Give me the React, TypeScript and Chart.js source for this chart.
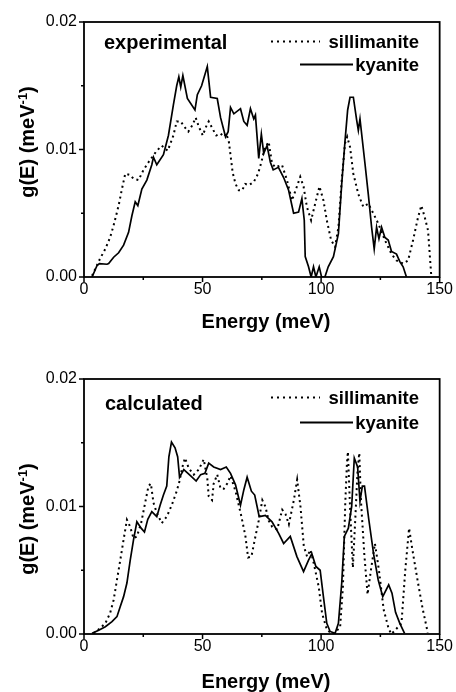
import React, { useEffect, useRef } from "react";
import { Chart, registerables } from "chart.js";
Chart.register(...registerables);

const FONT = '"Liberation Sans", Arial, Helvetica, sans-serif';

// x-axis tick labels / title
const xTickValues = [0, 50, 100, 150];
const xMinorTicks = [25, 75, 125];
const yTickValues = [0, 0.01, 0.02];
const yMinorTicks = [0.005, 0.015];
const xTitle = "Energy (meV)";
const yTitleMain = "g(E) (meV";
const yTitleSup = "-1";
const yTitleEnd = ")";
const seriesNames = ["sillimanite", "kyanite"];
const panelLabels = ["experimental", "calculated"];

// ---- experimental: kyanite ----
const expKyaniteE = [3.4, 5.5, 6.5, 9.7, 10.4, 12.5, 14.6, 16.7, 18.8, 20.2, 21.6, 22.7, 24.4, 26.5, 28.6, 29.3, 30.7, 33.5, 35.6, 37.7, 39.1, 40.0, 40.8, 41.7, 43.6, 46.8, 47.8, 49.6, 52.0, 53.4, 56.2, 57.6, 59.7, 60.8, 61.8, 63.2, 66.0, 67.4, 68.8, 70.2, 71.6, 72.3, 73.7, 74.8, 75.8, 77.2, 78.6, 79.8, 82.0, 84.2, 86.3, 88.4, 90.5, 91.9, 92.9, 93.3, 94.7, 95.8, 96.8, 97.8, 99.2, 100.2, 101.6, 103.0, 105.2, 107.3, 108.7, 110.1, 111.2, 112.2, 113.6, 115.0, 115.7, 116.4, 118.5, 119.9, 121.3, 122.4, 123.4, 124.4, 125.5, 126.9, 128.3, 129.7, 131.8, 133.2, 134.6, 136.0];
const expKyaniteG = [0, 0.0009, 0.00105, 0.001, 0.00105, 0.00155, 0.0019, 0.0025, 0.0035, 0.0048, 0.0059, 0.0056, 0.0069, 0.0076, 0.0088, 0.0094, 0.0088, 0.0096, 0.0111, 0.0135, 0.015, 0.0157, 0.0149, 0.0158, 0.014, 0.0131, 0.0143, 0.015, 0.0165, 0.0141, 0.014, 0.0125, 0.011, 0.0114, 0.0133, 0.0128, 0.0132, 0.0122, 0.0119, 0.0132, 0.0124, 0.0127, 0.0093, 0.0112, 0.0097, 0.0103, 0.009, 0.0084, 0.0086, 0.0078, 0.0068, 0.005, 0.0051, 0.00615, 0.00445, 0.0016, 0.0008, 0, 0.0008, 0, 0.0008, 0, 0, 0.0008, 0.0016, 0.0034, 0.0073, 0.0107, 0.0131, 0.0141, 0.0141, 0.0123, 0.0115, 0.0124, 0.0089, 0.0065, 0.0039, 0.0022, 0.0039, 0.003, 0.0039, 0.0031, 0.0029, 0.002, 0.0018, 0.0012, 0.0008, 0];

// ---- experimental: sillimanite ----
const expSillE = [3.4, 4.8, 6.8, 9.0, 11.0, 12.5, 14.6, 16.0, 17.4, 19.5, 20.9, 23.0, 25.1, 27.2, 29.3, 30.7, 32.8, 35.3, 37.7, 39.1, 40.8, 42.2, 44.0, 45.7, 47.1, 48.4, 50.1, 51.5, 52.6, 54.3, 55.8, 57.6, 59.0, 60.0, 61.1, 61.8, 62.7, 63.9, 65.3, 66.7, 68.0, 69.5, 71.6, 73.4, 74.8, 76.2, 77.9, 79.3, 80.7, 83.5, 85.6, 87.7, 89.8, 91.2, 92.6, 94.0, 95.8, 97.5, 99.3, 101.0, 102.4, 104.2, 105.9, 107.3, 108.7, 110.1, 111.0, 112.2, 113.6, 115.7, 117.8, 119.9, 122.0, 124.1, 126.9, 129.7, 131.8, 134.6, 136.7, 138.8, 140.9, 142.3, 143.7, 145.1, 146.5];
const expSillG = [0.0001, 0.00065, 0.00145, 0.0022, 0.0031, 0.00405, 0.0056, 0.0069, 0.0081, 0.008, 0.0077, 0.0076, 0.0084, 0.009, 0.00955, 0.0099, 0.0103, 0.0099, 0.0111, 0.0122, 0.0122, 0.0118, 0.0114, 0.0119, 0.0125, 0.0118, 0.0111, 0.0118, 0.0122, 0.0116, 0.0111, 0.01125, 0.011, 0.01125, 0.0106, 0.00955, 0.0082, 0.0073, 0.0068, 0.0068, 0.0073, 0.0072, 0.00745, 0.0081, 0.009, 0.0101, 0.0106, 0.0089, 0.0086, 0.0088, 0.0076, 0.006, 0.0071, 0.00785, 0.0071, 0.0055, 0.00445, 0.00575, 0.0071, 0.006, 0.00445, 0.0029, 0.00235, 0.0039, 0.0076, 0.0105, 0.011, 0.0102, 0.0081, 0.0065, 0.0055, 0.00575, 0.005, 0.0042, 0.0029, 0.0018, 0.0013, 0.00105, 0.0013, 0.0029, 0.0047, 0.0056, 0.0047, 0.00365, 0];

// ---- calculated: kyanite ----
const calcKyaniteE = [3.4, 6.2, 9.0, 11.8, 13.9, 15.3, 16.7, 18.1, 19.5, 20.9, 22.3, 24.1, 25.5, 26.9, 28.6, 30.7, 32.1, 33.5, 34.9, 35.8, 36.9, 38.4, 39.5, 40.3, 42.1, 45.0, 47.3, 49.2, 51.0, 52.6, 54.7, 57.6, 60.0, 61.8, 63.9, 66.0, 67.4, 68.8, 70.6, 72.0, 73.9, 76.5, 79.3, 82.1, 84.2, 87.0, 89.8, 92.6, 94.7, 96.1, 97.8, 99.6, 101.0, 102.4, 103.8, 105.9, 107.3, 108.7, 109.8, 111.5, 112.9, 114.0, 115.4, 116.4, 117.4, 118.3, 120.1, 122.2, 124.1, 126.0, 128.5, 129.9, 131.4, 133.2, 135.2];
const calcKyaniteG = [0.00005, 0.0003, 0.00057, 0.00097, 0.00136, 0.00215, 0.00293, 0.004, 0.0058, 0.0074, 0.0088, 0.0083, 0.008, 0.009, 0.0096, 0.0092, 0.0101, 0.0109, 0.0116, 0.0139, 0.01505, 0.0146, 0.0139, 0.0123, 0.0129, 0.0124, 0.012, 0.0125, 0.0126, 0.0134, 0.0131, 0.0129, 0.0131, 0.0126, 0.0117, 0.0101, 0.0113, 0.0123, 0.0112, 0.0109, 0.0092, 0.0093, 0.0088, 0.0079, 0.0071, 0.00765, 0.00607, 0.0049, 0.0058, 0.0063, 0.0053, 0.005, 0.0029, 0.00084, 0.0002, 0.00005, 0.00084, 0.004, 0.00765, 0.0083, 0.01, 0.0138, 0.0131, 0.0104, 0.0116, 0.0116, 0.009, 0.0062, 0.00424, 0.00293, 0.00385, 0.0032, 0.0017, 0.00084, 0.00005];

// ---- calculated: sillimanite ----
const calcSillE = [4.0, 6.8, 9.0, 11.0, 12.5, 13.9, 15.3, 16.7, 18.1, 19.5, 20.9, 22.3, 24.1, 25.8, 27.2, 28.2, 29.3, 30.7, 32.8, 34.9, 37.0, 39.1, 40.3, 41.5, 42.6, 44.2, 46.3, 48.4, 50.5, 52.0, 52.6, 54.0, 54.7, 56.2, 57.6, 59.0, 60.4, 61.8, 63.9, 66.4, 68.1, 69.2, 70.6, 72.3, 73.7, 75.2, 76.5, 77.9, 79.4, 81.5, 83.6, 85.0, 86.4, 88.5, 89.9, 91.3, 92.7, 94.1, 95.5, 96.9, 99.0, 100.4, 102.5, 105.0, 108.0, 109.2, 110.2, 110.9, 111.3, 112.3, 113.4, 114.4, 115.4, 116.1, 116.8, 118.2, 119.6, 121.0, 122.7, 124.4, 126.4, 128.5, 129.7, 133.9, 135.5, 137.1, 138.6, 140.7, 142.8, 145.0];
const calcSillG = [0.00005, 0.00045, 0.00084, 0.00163, 0.00267, 0.00424, 0.0058, 0.0074, 0.00896, 0.0084, 0.0075, 0.00765, 0.0087, 0.0103, 0.0116, 0.0118, 0.0103, 0.0095, 0.0087, 0.0092, 0.0101, 0.0112, 0.012, 0.0131, 0.0138, 0.013, 0.0125, 0.0129, 0.0137, 0.0122, 0.0108, 0.0105, 0.0118, 0.0125, 0.0114, 0.0114, 0.0118, 0.0124, 0.0112, 0.0092, 0.00765, 0.006, 0.00607, 0.00765, 0.0089, 0.0105, 0.01, 0.0089, 0.0084, 0.0082, 0.00975, 0.0094, 0.0086, 0.0105, 0.0121, 0.01, 0.0069, 0.00607, 0.0066, 0.00555, 0.0037, 0.00163, 0.0003, 0, 0.0005, 0.0037, 0.0103, 0.0134, 0.0143, 0.0095, 0.0052, 0.00896, 0.0129, 0.0142, 0.0105, 0.0063, 0.0031, 0.005, 0.0071, 0.005, 0.0019, 0.0004, 0, 0.00084, 0.005, 0.0083, 0.0065, 0.0042, 0.002, 0.0001];

type PanelCfg = {
  plotTop: number;
  plotBottom: number;
  label: string;
  labelX: number;
  labelY: number;
  legendY1: number;
  legendY2: number;
  yTitleX: number;
  yTitleY: number;
  xTitleX: number;
  xTitleY: number;
  sillE: number[];
  sillG: number[];
  kyE: number[];
  kyG: number[];
};

const W = 456;
const H = 692;

const decorPlugin = {
  id: "panelDecor",
  afterDraw(chart: any, _args: any, o: any) {
    const ctx: CanvasRenderingContext2D = chart.ctx;
    const { left, right, top, bottom } = chart.chartArea;
    const xs = chart.scales.x;
    const ys = chart.scales.y;
    ctx.save();
    ctx.strokeStyle = "#000";
    ctx.fillStyle = "#000";
    ctx.setLineDash([]);
    // frame
    ctx.lineWidth = 1.8;
    ctx.strokeRect(left, top, right - left, bottom - top);
    // ticks
    ctx.lineWidth = 1.5;
    ctx.beginPath();
    for (const v of xTickValues) {
      const p = xs.getPixelForValue(v);
      ctx.moveTo(p, bottom);
      ctx.lineTo(p, bottom + 5);
    }
    for (const v of xMinorTicks) {
      const p = xs.getPixelForValue(v);
      ctx.moveTo(p, bottom);
      ctx.lineTo(p, bottom + 3);
    }
    for (const v of yTickValues) {
      const p = ys.getPixelForValue(v);
      ctx.moveTo(left, p);
      ctx.lineTo(left - 5, p);
    }
    for (const v of yMinorTicks) {
      const p = ys.getPixelForValue(v);
      ctx.moveTo(left, p);
      ctx.lineTo(left - 3, p);
    }
    ctx.stroke();

    // x title
    ctx.font = `bold 20px ${FONT}`;
    ctx.textAlign = "center";
    ctx.textBaseline = "alphabetic";
    ctx.fillText(xTitle, o.xTitleX, o.xTitleY);

    // y title (rotated)
    ctx.save();
    ctx.translate(o.yTitleX, o.yTitleY);
    ctx.rotate(-Math.PI / 2);
    ctx.textAlign = "left";
    const mainFont = `bold 20px ${FONT}`;
    const supFont = `bold 13px ${FONT}`;
    ctx.font = mainFont;
    const w1 = ctx.measureText(yTitleMain).width;
    const w3 = ctx.measureText(yTitleEnd).width;
    ctx.font = supFont;
    const w2 = ctx.measureText(yTitleSup).width;
    let x0 = -(w1 + w2 + w3) / 2;
    ctx.font = mainFont;
    ctx.fillText(yTitleMain, x0, 0);
    x0 += w1;
    ctx.font = supFont;
    ctx.fillText(yTitleSup, x0, -7);
    x0 += w2;
    ctx.font = mainFont;
    ctx.fillText(yTitleEnd, x0, 0);
    ctx.restore();

    // panel label
    ctx.font = `bold 20px ${FONT}`;
    ctx.textAlign = "left";
    ctx.fillText(o.label, o.labelX, o.labelY);

    // legend
    ctx.font = `bold 18.5px ${FONT}`;
    ctx.textAlign = "right";
    ctx.fillText(seriesNames[0], 419, o.legendY1);
    ctx.fillText(seriesNames[1], 419, o.legendY2);
    ctx.lineWidth = 2;
    ctx.setLineDash([2, 4]);
    ctx.beginPath();
    ctx.moveTo(271, o.legendY1 - 6.5);
    ctx.lineTo(320, o.legendY1 - 6.5);
    ctx.stroke();
    ctx.setLineDash([]);
    ctx.lineWidth = 1.8;
    ctx.beginPath();
    ctx.moveTo(300, o.legendY2 - 6.5);
    ctx.lineTo(353, o.legendY2 - 6.5);
    ctx.stroke();
    ctx.restore();
  },
};

function Panel({ cfg }: { cfg: PanelCfg }) {
  const ref = useRef<HTMLCanvasElement>(null);
  useEffect(() => {
    const toPts = (e: number[], g: number[]) => e.map((x, i) => ({ x, y: g[i] }));
    const chart = new Chart(ref.current as HTMLCanvasElement, {
      type: "line",
      data: {
        datasets: [
          {
            label: seriesNames[0],
            data: toPts(cfg.sillE, cfg.sillG),
            borderColor: "#000",
            borderWidth: 2,
            borderDash: [2, 3.5],
            pointRadius: 0,
            tension: 0,
            fill: false,
          },
          {
            label: seriesNames[1],
            data: toPts(cfg.kyE, cfg.kyG),
            borderColor: "#000",
            borderWidth: 1.7,
            pointRadius: 0,
            tension: 0,
            fill: false,
          },
        ],
      },
      options: {
        animation: false,
        responsive: false,
        devicePixelRatio: 1,
        layout: { padding: { top: cfg.plotTop, right: 15, left: 0, bottom: 0 } },
        plugins: {
          legend: { display: false },
          tooltip: { enabled: false },
          title: { display: false },
          panelDecor: cfg,
        } as any,
        scales: {
          x: {
            type: "linear",
            min: 0,
            max: 150,
            grid: { display: false, drawTicks: false },
            border: { display: false },
            ticks: {
              stepSize: 50,
              padding: 3,
              color: "#000",
              font: { family: FONT, size: 16 },
              maxRotation: 0,
              callback: (v: any) => String(v),
            },
            afterFit: (s: any) => {
              s.height = H - cfg.plotBottom;
            },
          },
          y: {
            type: "linear",
            min: 0,
            max: 0.02,
            grid: { display: false, drawTicks: false },
            border: { display: false },
            ticks: {
              stepSize: 0.01,
              padding: 7,
              color: "#000",
              font: { family: FONT, size: 16 },
              callback: (v: any) => Number(v).toFixed(2),
            },
            afterFit: (s: any) => {
              s.width = 84;
            },
          },
        },
      },
      plugins: [decorPlugin],
    });
    return () => chart.destroy();
  }, [cfg]);
  return (
    <canvas
      ref={ref}
      width={W}
      height={H}
      style={{ position: "absolute", left: 0, top: 0, width: W, height: H, display: "block" }}
    />
  );
}

const topPanel: PanelCfg = {
  plotTop: 22,
  plotBottom: 277,
  label: panelLabels[0],
  labelX: 104,
  labelY: 49,
  legendY1: 48,
  legendY2: 71,
  yTitleX: 34,
  yTitleY: 142,
  xTitleX: 266,
  xTitleY: 328,
  sillE: expSillE,
  sillG: expSillG,
  kyE: expKyaniteE,
  kyG: expKyaniteG,
};

const bottomPanel: PanelCfg = {
  plotTop: 379,
  plotBottom: 634,
  label: panelLabels[1],
  labelX: 105,
  labelY: 410,
  legendY1: 404,
  legendY2: 429,
  yTitleX: 34,
  yTitleY: 519,
  xTitleX: 266,
  xTitleY: 688,
  sillE: calcSillE,
  sillG: calcSillG,
  kyE: calcKyaniteE,
  kyG: calcKyaniteG,
};

export default function App() {
  return (
    <div style={{ position: "absolute", left: 0, top: 0, width: W, height: H, background: "#fff" }}>
      <Panel cfg={topPanel} />
      <Panel cfg={bottomPanel} />
    </div>
  );
}
